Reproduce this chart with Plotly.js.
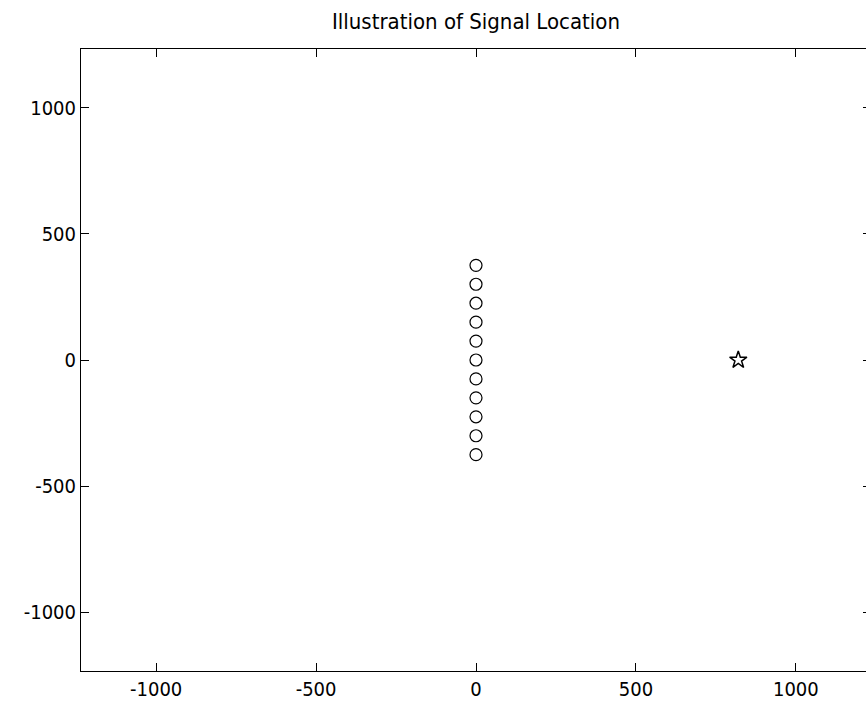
<!DOCTYPE html>
<html>
<head>
<meta charset="utf-8">
<script src="https://cdn.plot.ly/plotly-3.0.1.min.js"></script>
<style>
html,body{margin:0;padding:0;overflow:hidden;background:#fff;width:866px;height:702px;}
#chart{width:900px;height:702px;}
</style>
</head>
<body>
<div id="chart"></div>
<script>
// Array element positions (circles)
const arrayX = [0, 0, 0, 0, 0, 0, 0, 0, 0, 0, 0];
const arrayY = [-375, -300, -225, -150, -75, 0, 75, 150, 225, 300, 375];
// Signal location (star)
const signalX = [820];
const signalY = [0];
// Ticks
const tickVals = [-1000, -500, 0, 500, 1000];
const tickText = ["-1000", "-500", "0", "500", "1000"];
const titleText = "Illustration of Signal Location";

const FONT = '"DejaVu Sans Condensed", "Liberation Sans Narrow", sans-serif';

const traces = [
  {
    x: arrayX, y: arrayY, type: 'scatter', mode: 'markers',
    marker: {symbol: 'circle-open', size: 12, color: '#000', line: {width: 1.2, color: '#000'}},
    hoverinfo: 'skip'
  },
  {
    x: signalX, y: signalY, type: 'scatter', mode: 'markers',
    marker: {symbol: 'star-open', size: 13, color: '#000', line: {width: 1.5, color: '#000'}},
    hoverinfo: 'skip'
  }
];

const axisCommon = {
  showgrid: false, zeroline: false,
  showline: true, linecolor: '#000', linewidth: 1, mirror: 'ticks',
  ticks: 'inside', ticklen: 8, tickwidth: 1, tickcolor: '#000',
  tickmode: 'array', tickvals: tickVals, ticktext: tickText,
  tickfont: {family: FONT, size: 20, color: '#000'}
};

const layout = {
  width: 900, height: 702,
  margin: {l: 81, r: 29, t: 49, b: 31, pad: 0},
  paper_bgcolor: '#fff', plot_bgcolor: '#fff',
  showlegend: false,
  title: {text: titleText, font: {family: FONT, size: 22, color: '#000'}, x: 0.5, xanchor: 'center', xref: 'paper', y: 0.97, yanchor: 'middle'},
  xaxis: Object.assign({}, axisCommon, {range: [-1235, 1235]}),
  yaxis: Object.assign({}, axisCommon, {range: [-1232, 1232]})
};

Plotly.newPlot('chart', traces, layout, {displayModeBar: false, staticPlot: true});
</script>
</body>
</html>
